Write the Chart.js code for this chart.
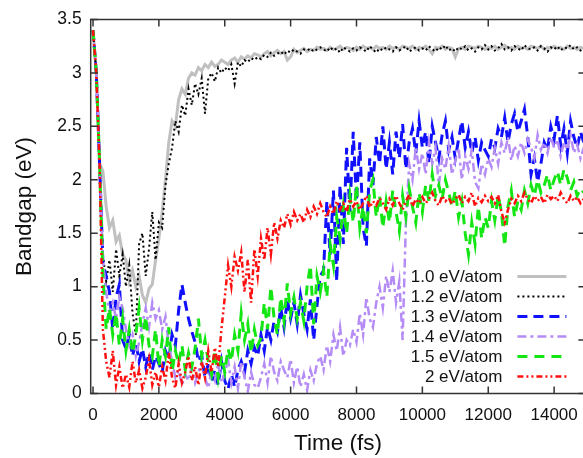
<!DOCTYPE html>
<html>
<head>
<meta charset="utf-8">
<script src="https://cdn.jsdelivr.net/npm/chart.js@4/dist/chart.umd.min.js"></script>
<style>
  html, body { margin: 0; padding: 0; background: #fff; overflow: hidden; }
  #wrap { width: 590px; height: 458px; }
</style>
</head>
<body>
<div id="wrap"><canvas id="gapChart" width="590" height="458"></canvas></div>
<script>
// sampling step of the MD trajectories (fs)
const timeStep = 100;

const seriesLabels = ['1.0 eV/atom', '1.2 eV/atom', '1.3 eV/atom', '1.4 eV/atom', '1.5 eV/atom', '2 eV/atom'];
const xTicks = [0, 2000, 4000, 6000, 8000, 10000, 12000, 14000];
const yTicks = [0, 0.5, 1, 1.5, 2, 2.5, 3, 3.5];

// bandgap (eV), one value every 100 fs from 0 to 14900 fs
const gap10 = [
  3.40, 3.00, 2.15, 2.08, 1.75, 1.55, 1.62, 1.42, 1.48, 1.30,
  1.25, 1.05, 1.15, 1.00, 1.10, 0.92, 0.85, 0.98, 1.02, 1.25,
  1.45, 1.70, 2.00, 2.35, 2.55, 2.50, 2.75, 2.85, 2.80, 2.95,
  3.00, 2.98, 3.05, 3.02, 3.08, 3.05, 3.10, 3.06, 3.08, 3.12,
  3.10, 3.08, 3.12, 3.14, 3.10, 3.15, 3.13, 3.16, 3.14, 3.18,
  3.17, 3.15, 3.18, 3.20, 3.16, 3.19, 3.21, 3.18, 3.20, 3.12,
  3.15, 3.22, 3.19, 3.21, 3.23, 3.20, 3.22, 3.21, 3.24, 3.22,
  3.23, 3.21, 3.24, 3.22, 3.23, 3.25, 3.22, 3.24, 3.23, 3.21,
  3.24, 3.22, 3.25, 3.23, 3.24, 3.22, 3.25, 3.23, 3.24, 3.22,
  3.25, 3.23, 3.24, 3.22, 3.25, 3.24, 3.23, 3.25, 3.22, 3.24,
  3.23, 3.25, 3.22, 3.18, 3.24, 3.23, 3.25, 3.22, 3.24, 3.23,
  3.15, 3.23, 3.24, 3.22, 3.25, 3.24, 3.23, 3.25, 3.24, 3.22,
  3.24, 3.23, 3.25, 3.22, 3.24, 3.26, 3.23, 3.24, 3.22, 3.25,
  3.23, 3.24, 3.22, 3.25, 3.24, 3.23, 3.25, 3.22, 3.24, 3.23,
  3.25, 3.23, 3.24, 3.22, 3.25, 3.23, 3.24, 3.22, 3.24, 3.23
];
const gap12 = [
  3.40, 3.00, 2.15, 1.30, 1.05, 1.25, 0.95, 1.35, 1.10, 1.30,
  1.00, 1.20, 0.75, 0.55, 1.40, 1.50, 1.10, 1.35, 1.70, 1.25,
  1.60, 1.55, 1.95, 2.15, 2.30, 2.55, 2.45, 2.70, 2.60, 2.85,
  2.70, 2.90, 2.80, 2.95, 2.62, 2.95, 3.00, 2.92, 3.05, 3.00,
  3.05, 3.02, 3.08, 2.90, 3.10, 3.06, 3.12, 3.10, 3.14, 3.12,
  3.15, 3.13, 3.17, 3.15, 3.19, 3.16, 3.18, 3.20, 3.17, 3.21,
  3.19, 3.22, 3.20, 3.18, 3.22, 3.21, 3.23, 3.20, 3.22, 3.24,
  3.22, 3.20, 3.24, 3.21, 3.23, 3.19, 3.24, 3.22, 3.20, 3.23,
  3.21, 3.24, 3.22, 3.20, 3.25, 3.22, 3.19, 3.23, 3.21, 3.24,
  3.22, 3.20, 3.24, 3.21, 3.23, 3.25, 3.20, 3.22, 3.24, 3.21,
  3.23, 3.21, 3.25, 3.22, 3.20, 3.24, 3.22, 3.26, 3.21, 3.23,
  3.20, 3.24, 3.22, 3.25, 3.21, 3.23, 3.20, 3.24, 3.22, 3.26,
  3.22, 3.25, 3.21, 3.23, 3.27, 3.22, 3.24, 3.21, 3.25, 3.23,
  3.21, 3.26, 3.23, 3.22, 3.24, 3.21, 3.25, 3.23, 3.20, 3.24,
  3.22, 3.25, 3.21, 3.24, 3.23, 3.26, 3.22, 3.24, 3.21, 3.23
];
const gap13 = [
  3.40, 3.00, 2.15, 1.22, 1.10, 0.95, 0.60, 0.90, 1.02, 0.50,
  0.42, 0.55, 0.35, 0.48, 0.30, 0.42, 0.25, 0.38, 0.22, 0.35,
  0.28, 0.20, 0.40, 0.32, 0.55, 0.45, 0.78, 1.02, 0.85, 0.70,
  0.58, 0.48, 0.30, 0.36, 0.15, 0.28, 0.10, 0.22, 0.08, 0.30,
  0.12, 0.04, 0.18, 0.06, 0.22, 0.30, 0.20, 0.40, 0.28, 0.43,
  0.35, 0.55, 0.40, 0.62, 0.50, 0.68, 0.58, 0.80, 0.62, 0.88,
  0.70, 0.85, 0.65, 0.92, 0.75, 0.60, 0.88, 0.50, 0.82, 1.10,
  1.15, 1.80, 1.30, 1.90, 1.05, 1.95, 1.40, 2.30, 1.70, 2.45,
  1.80, 2.35, 1.55, 1.38, 2.20, 1.95, 2.40, 2.15, 2.50, 2.10,
  2.35, 2.05, 2.45, 2.20, 2.52, 2.10, 2.35, 2.48, 2.25, 2.55,
  2.30, 2.45, 2.15, 2.50, 2.35, 2.20, 2.42, 2.55, 2.28, 2.40,
  2.20, 2.38, 2.55, 2.30, 2.45, 2.25, 2.40, 2.18, 2.35, 2.28,
  2.22, 2.38, 2.30, 2.48, 2.40, 2.58, 2.35, 2.52, 2.62, 2.45,
  2.55, 2.66, 2.40, 2.05, 2.20, 1.98, 2.15, 2.35, 2.28, 2.50,
  2.38, 2.60, 2.32, 2.48, 2.25, 2.55, 2.40, 2.30, 2.45, 2.35
];
const gap14 = [
  3.40, 3.00, 2.15, 1.25, 0.95, 0.75, 0.85, 0.70, 0.90, 0.80,
  0.60, 0.45, 0.55, 0.35, 0.48, 0.65, 0.80, 0.62, 0.85, 0.70,
  0.78, 0.60, 0.72, 0.45, 0.30, 0.15, 0.22, 0.08, 0.18, 0.12,
  0.25, 0.10, 0.20, 0.30, 0.15, 0.05, 0.22, 0.12, 0.28, 0.10,
  0.18, 0.32, 0.10, 0.25, 0.05, 0.30, 0.15, 0.02, 0.20, 0.08,
  0.05, 0.15, 0.28, 0.10, 0.35, 0.20, 0.12, 0.30, 0.22, 0.15,
  0.32, 0.10, 0.25, 0.06, 0.18, 0.03, 0.22, 0.12, 0.28, 0.35,
  0.22, 0.45, 0.30, 0.55, 0.40, 0.62, 0.35, 0.50, 0.45, 0.60,
  0.48, 0.75, 0.55, 0.90, 0.70, 0.62, 0.85, 1.00, 0.80, 1.10,
  0.95, 1.15, 0.85, 1.05, 0.50, 1.60, 2.15, 2.00, 2.30, 2.10,
  2.25, 2.05, 2.35, 2.15, 2.30, 1.95, 2.20, 2.10, 2.32, 2.05,
  2.18, 2.30, 2.00, 2.22, 2.10, 2.28, 1.98, 1.92, 2.15, 2.05,
  2.20, 2.12, 2.30, 2.15, 2.35, 2.25, 2.40, 2.18, 2.32, 2.22,
  2.35, 2.25, 2.38, 2.30, 2.20, 2.42, 2.28, 2.35, 2.25, 2.40,
  2.30, 2.38, 2.22, 2.35, 2.28, 2.42, 2.25, 2.33, 2.20, 2.30
];
const gap15 = [
  3.40, 3.00, 2.15, 1.10, 0.60, 0.80, 0.55, 0.75, 0.45, 0.70,
  0.40, 0.60, 0.38, 0.55, 0.80, 0.50, 0.72, 0.45, 0.35, 0.60,
  0.25, 0.50, 0.35, 0.62, 0.20, 0.40, 0.28, 0.45, 0.22, 0.38,
  0.25, 0.42, 0.70, 0.35, 0.50, 0.30, 0.18, 0.40, 0.15, 0.35,
  0.20, 0.42, 0.30, 0.55, 0.40, 0.75, 0.50, 0.65, 0.38, 0.60,
  0.45, 0.52, 0.85, 0.60, 1.00, 0.70, 0.55, 0.90, 0.68, 1.03,
  0.75, 0.90, 0.70, 0.85, 0.68, 1.00, 1.20, 0.65, 1.10, 0.95,
  1.15, 0.90, 1.40, 1.20, 1.65, 1.45, 1.75, 1.50, 1.85, 1.60,
  1.95, 1.55, 1.75, 1.50, 1.90, 2.00, 1.65, 1.85, 1.55, 1.80,
  1.60, 1.90, 1.70, 1.52, 1.85, 1.65, 1.92, 1.75, 1.60, 1.88,
  1.70, 1.95, 1.80, 2.05, 1.85, 1.95, 1.82, 2.00, 1.88, 1.75,
  1.90, 1.65, 1.80, 1.50, 1.30, 1.60, 1.40, 1.75, 1.45, 1.65,
  1.55, 1.80, 1.62, 1.85, 1.70, 1.38, 1.75, 1.90, 1.65, 1.80,
  1.72, 1.90, 1.78, 1.95, 1.85, 2.00, 1.88, 1.95, 2.05, 1.90,
  2.00, 2.08, 1.95, 2.10, 2.02, 1.90, 1.98, 1.85, 1.92, 1.88
];
const gap20 = [
  3.40, 3.00, 2.15, 0.60, 0.30, 0.15, 0.40, 0.08, 0.25, 0.05,
  0.18, 0.06, 0.30, 0.10, 0.22, 0.05, 0.15, 0.32, 0.08, 0.20,
  0.06, 0.25, 0.12, 0.38, 0.15, 0.05, 0.28, 0.10, 0.20, 0.35,
  0.12, 0.25, 0.08, 0.30, 0.15, 0.40, 0.20, 0.43, 0.25, 0.60,
  0.90, 1.20, 1.00, 1.28, 1.15, 1.32, 0.95, 1.25, 0.85, 1.35,
  1.10, 1.45, 1.25, 1.55, 1.30, 1.60, 1.45, 1.62, 1.55, 1.68,
  1.58, 1.70, 1.62, 1.68, 1.60, 1.72, 1.65, 1.75, 1.68, 1.78,
  1.70, 1.65, 1.75, 1.68, 1.80, 1.72, 1.78, 1.70, 1.82, 1.75,
  1.80, 1.72, 1.78, 1.85, 1.74, 1.80, 1.76, 1.83, 1.78, 1.72,
  1.82, 1.76, 1.85, 1.78, 1.72, 1.80, 1.86, 1.75, 1.82, 1.78,
  1.84, 1.78, 1.82, 1.88, 1.80, 1.76, 1.85, 1.80, 1.83, 1.77,
  1.82, 1.86, 1.78, 1.84, 1.80, 1.88, 1.75, 1.83, 1.79, 1.85,
  1.80, 1.84, 1.78, 1.86, 1.70, 1.60, 1.72, 1.82, 1.78, 1.85,
  1.80, 1.88, 1.82, 1.78, 1.85, 1.80, 1.84, 1.78, 1.86, 1.82,
  1.85, 1.80, 1.88, 1.82, 1.78, 1.85, 1.80, 1.84, 1.78, 1.82
];

const FONT = "'Liberation Sans', Arial, sans-serif";

function toPoints(values) {
  return values.map((v, i) => ({ x: i * timeStep, y: v }));
}

// gnuplot-like line styles
const styles = [
  { color: '#c0c0c0', width: 3, dash: [] },
  { color: '#000000', width: 2, dash: [2, 3] },
  { color: '#1010ff', width: 3, dash: [10, 6] },
  { color: '#b58cf5', width: 2.5, dash: [9, 4, 3, 4] },
  { color: '#14e614', width: 3, dash: [10, 7] },
  { color: '#ff1010', width: 2.5, dash: [6, 3, 2, 3, 2, 3] }
];
const allGaps = [gap10, gap12, gap13, gap14, gap15, gap20];

const datasets = allGaps.map((vals, i) => ({
  label: seriesLabels[i],
  data: toPoints(vals),
  borderColor: styles[i].color,
  borderWidth: styles[i].width,
  borderDash: styles[i].dash,
  pointRadius: 0,
  tension: 0,
  fill: false,
  order: allGaps.length - i // later series drawn on top
}));

// frame, inward ticks on all four sides, and the key
const framePlugin = {
  id: 'framePlugin',
  afterDatasetsDraw(chart) {
    const { ctx, chartArea: a, scales } = chart;
    const tl = 7;
    ctx.save();
    ctx.strokeStyle = '#333';
    ctx.lineWidth = 1.5;
    ctx.beginPath();
    xTicks.forEach(v => {
      const px = scales.x.getPixelForValue(v);
      ctx.moveTo(px, a.bottom); ctx.lineTo(px, a.bottom - tl);
      ctx.moveTo(px, a.top); ctx.lineTo(px, a.top + tl);
    });
    yTicks.forEach(v => {
      const py = scales.y.getPixelForValue(v);
      ctx.moveTo(a.left, py); ctx.lineTo(a.left + tl, py);
      ctx.moveTo(a.right, py); ctx.lineTo(a.right - tl, py);
    });
    ctx.stroke();
    ctx.strokeRect(a.left, a.top, a.right - a.left, a.bottom - a.top);

    // key, bottom right inside the plot
    ctx.font = '17px ' + FONT;
    ctx.textAlign = 'right';
    ctx.textBaseline = 'middle';
    const n = chart.data.datasets.length;
    chart.data.datasets.forEach((ds, i) => {
      const y = a.bottom - 17 - 20 * (n - 1 - i);
      ctx.fillStyle = '#111';
      ctx.fillText(ds.label, a.right - 83, y + 1);
      ctx.beginPath();
      ctx.strokeStyle = ds.borderColor;
      ctx.lineWidth = ds.borderWidth;
      ctx.setLineDash(ds.borderDash);
      ctx.moveTo(a.right - 68, y);
      ctx.lineTo(a.right - 19, y);
      ctx.stroke();
      ctx.setLineDash([]);
    });
    ctx.restore();
  }
};

new Chart(document.getElementById('gapChart').getContext('2d'), {
  type: 'line',
  data: { datasets: datasets },
  options: {
    responsive: false,
    animation: false,
    layout: { padding: { left: 0, top: 19.5, right: 4, bottom: 0 } },
    plugins: {
      legend: { display: false },
      tooltip: { enabled: false }
    },
    scales: {
      x: {
        type: 'linear',
        min: -70,
        max: 14950,
        afterBuildTicks: s => { s.ticks = xTicks.map(v => ({ value: v })); },
        afterFit: s => { s.height = 64.5; },
        grid: { display: false, drawTicks: false },
        border: { display: false },
        ticks: {
          color: '#111', font: { family: FONT, size: 17 }, padding: 12, maxRotation: 0,
          callback: v => String(v)
        },
        title: { display: true, text: 'Time (fs)', color: '#111', font: { family: FONT, size: 22.5 }, padding: { top: 0, bottom: 1 } }
      },
      y: {
        min: 0,
        max: 3.5,
        afterBuildTicks: s => { s.ticks = yTicks.map(v => ({ value: v })); },
        afterFit: s => { s.width = 90.7; },
        grid: { display: false, drawTicks: false },
        border: { display: false },
        ticks: {
          color: '#111', font: { family: FONT, size: 17.5 }, padding: 9,
          callback: v => String(v)
        },
        title: { display: true, text: 'Bandgap (eV)', color: '#111', font: { family: FONT, size: 22.5 }, padding: { top: 11, bottom: 0 } }
      }
    }
  },
  plugins: [framePlugin]
});
</script>
</body>
</html>
